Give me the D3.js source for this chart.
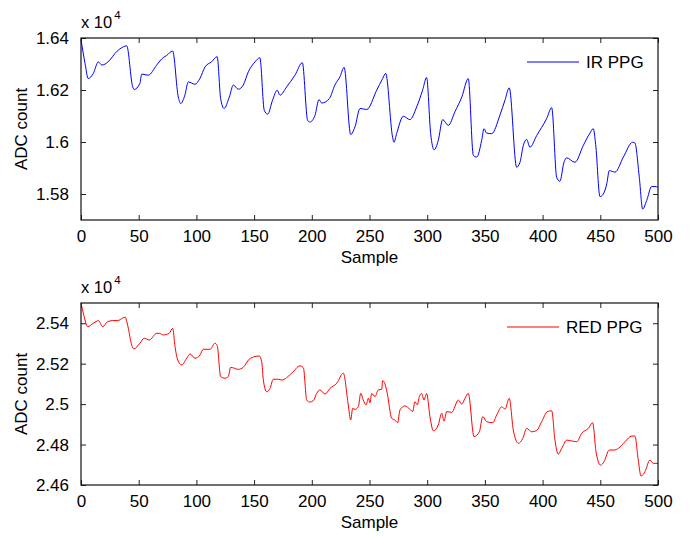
<!DOCTYPE html>
<html>
<head>
<meta charset="utf-8">
<script src="https://cdn.jsdelivr.net/npm/d3@7"></script>
<style>
  body { margin: 0; background: #fff; }
  svg { display: block; font-family: "Liberation Sans", Arial, sans-serif; }
</style>
</head>
<body>
<div id="chart"></div>
<script>
// samples and values (values in units of 1e4)
const irSample = [0, 3.5, 6.3, 10.7, 15, 18, 25, 29.5, 36.7, 39.6, 44.8, 46, 51, 52.6, 58.3, 65.6, 71.3, 74, 79.4,
  84.3, 86.4, 90, 93, 98.8, 103, 107.5, 113, 118, 121, 124, 128.5, 132, 136.3, 140.6, 145, 150.8, 155,
  158.8, 161.8, 166, 170, 172.4, 178.2, 185.4, 191.8, 196.4, 198.4, 202.8, 206.2, 208.6, 215.2, 220, 224.4, 228,
  233.7, 237.4, 241.8, 247.6, 256.2, 261.4, 264, 270, 271.2, 273.5, 279.3, 285, 290.9, 296, 299.5,
  303, 306, 309.6, 313.4, 318.3, 324, 330, 335.6, 340, 342.9, 347.2, 349.2, 351.5, 355.9, 363, 367.4, 371.1,
  377.5, 380.4, 383.3, 386.2, 389, 394.9, 403.5, 407.9, 412.2, 415, 418.5, 420.8, 428, 435.3, 441, 443.9, 446,
  449.7, 452.6, 455.6, 457.8, 462.7, 470, 478, 480, 483.8, 486.7, 490.2, 494.5, 497.4, 500];
const irValue = [1.6395, 1.6302, 1.6244, 1.6264, 1.6308, 1.6296, 1.6315, 1.6341, 1.6366, 1.6370, 1.6212, 1.6202, 1.6225, 1.6261, 1.6257, 1.6296, 1.6325, 1.6332, 1.6350,
  1.6173, 1.6148, 1.6180, 1.6231, 1.6222, 1.6244, 1.6289, 1.6308, 1.6328, 1.6167, 1.6129, 1.6173, 1.6219, 1.6203, 1.6219, 1.6270, 1.6308, 1.6324,
  1.6122, 1.6107, 1.6161, 1.6199, 1.6180, 1.6212, 1.6257, 1.6305, 1.6083, 1.6077, 1.6103, 1.6163, 1.6150, 1.6167, 1.6219, 1.6251, 1.6287,
  1.6029, 1.6058, 1.6129, 1.6125, 1.6199, 1.6244, 1.6264, 1.6019, 1.5999, 1.6032, 1.6099, 1.6086, 1.6135, 1.6199, 1.6248,
  1.6032, 1.5970, 1.6006, 1.6086, 1.6064, 1.6116, 1.6173, 1.6244, 1.5948, 1.5942, 1.6006, 1.6051, 1.6034, 1.6032, 1.6103, 1.6161, 1.6208,
  1.5903, 1.5922, 1.5987, 1.6010, 1.5980, 1.6025, 1.6090, 1.6132, 1.5864, 1.5849, 1.5922, 1.5939, 1.5922, 1.5987, 1.6034, 1.6051, 1.5990,
  1.5790, 1.5800, 1.5839, 1.5890, 1.5884, 1.5942, 1.5999, 1.5996, 1.5864, 1.5742, 1.5775, 1.5829, 1.5829, 1.5826];

const redSample = [0, 2, 5.8, 10.7, 13, 15, 18.8, 23.1, 27.5, 31.8, 36.1, 38.4, 39.8, 41, 43.9, 45.9, 51, 54.9, 59.2, 65.6, 67.8, 71.3, 76.5, 79.4,
  81.5, 83.8, 87.3, 91.6, 94.5, 98.8, 103.1, 106, 111.8, 116.1, 118, 121, 124.8, 127.6, 129.7, 136.3, 140.6, 145.8, 150.8, 154.5, 156.6,
  158, 160.9, 163.8, 166.6, 171, 173.9, 182.6, 189.8, 192.7, 195.6, 198, 201.3, 204.2, 207.1, 211.4,
  215.8, 221.6, 227.3, 231.6, 233.7, 235.4, 237.4, 240.3, 242.4, 244.6, 247, 249, 250.4, 251.9, 254.8, 257.6, 260.6, 261.4, 263.4, 265.4,
  269.2, 272.1, 274.4, 276.4, 280.8, 285.1, 287.4, 289.4, 291.4, 293.2, 295.2, 297.2, 299.5,
  302.4, 305.3, 309.6, 312.6, 314.6, 316.9, 321.2, 327, 329.9, 332.8, 335.6,
  340.6, 345.2, 348.1, 351.6, 356.8, 360.2, 364.6, 367.4, 371.1,
  374.6, 379, 382.8, 386.2, 390.6, 394.9, 399.2, 404.1, 407.9, 410.7, 413.6, 416.6, 420.9, 425.2, 429.6, 433.9, 439.6, 443.4,
  446.3, 450.3, 453.2, 457.8, 461.9, 465.6, 471.4, 477.2, 480, 482.9, 485.3, 488.7, 493, 495.9, 500];
const redValue = [2.5499, 2.5450, 2.5383, 2.5400, 2.5408, 2.5413, 2.5383, 2.5408, 2.5413, 2.5413, 2.5425, 2.5430, 2.5405, 2.5375, 2.5293, 2.5273, 2.5301, 2.5326, 2.5317, 2.5350, 2.5350, 2.5342, 2.5350, 2.5375,
  2.5284, 2.5218, 2.5194, 2.5227, 2.5248, 2.5227, 2.5243, 2.5271, 2.5271, 2.5301, 2.5290, 2.5136, 2.5128, 2.5136, 2.5182, 2.5172, 2.5182, 2.5222, 2.5235, 2.5238, 2.5210,
  2.5119, 2.5061, 2.5078, 2.5123, 2.5123, 2.5119, 2.5153, 2.5189, 2.5180, 2.5020, 2.5010, 2.5017, 2.5053, 2.5070, 2.5050,
  2.5078, 2.5103, 2.5153, 2.4996, 2.4921, 2.4979, 2.4974, 2.4987, 2.5053, 2.5020, 2.4996, 2.5029, 2.5007, 2.5053, 2.5037, 2.5070, 2.5073, 2.5116, 2.5100, 2.5053,
  2.4930, 2.4921, 2.4908, 2.4971, 2.4991, 2.4974, 2.4963, 2.5012, 2.4996, 2.5037, 2.5053, 2.5020, 2.5053,
  2.4938, 2.4868, 2.4897, 2.4955, 2.4916, 2.4963, 2.4959, 2.5020, 2.5000, 2.5029, 2.5053,
  2.4839, 2.4863, 2.4938, 2.4913, 2.4908, 2.4946, 2.4987, 2.4975, 2.5029,
  2.4872, 2.4806, 2.4830, 2.4880, 2.4863, 2.4870, 2.4913, 2.4963, 2.4967, 2.4822, 2.4753, 2.4781, 2.4822, 2.4818, 2.4814, 2.4856, 2.4880, 2.4908,
  2.4764, 2.4698, 2.4715, 2.4773, 2.4773, 2.4781, 2.4814, 2.4842, 2.4842, 2.4723, 2.4644, 2.4666, 2.4723, 2.4707, 2.4707];

const xTicks = [0, 50, 100, 150, 200, 250, 300, 350, 400, 450, 500];
const irTicks = [1.58, 1.6, 1.62, 1.64];
const redTicks = [2.46, 2.48, 2.5, 2.52, 2.54];

const width = 690;
const height = 536;
const marginLeft = 81;
const marginRight = 32;

const svg = d3.select("#chart")
  .append("svg")
  .attr("width", width)
  .attr("height", height)
  .attr("viewBox", [0, 0, width, height]);

function panel(top, bottom, xs, ys, domain, yTicks, color, name, legendX) {
  const x = d3.scaleLinear().domain([0, 500]).range([marginLeft, width - marginRight]);
  const y = d3.scaleLinear().domain(domain).range([bottom, top]);
  const data = xs.map((s, i) => [s, ys[i]]);

  const g = svg.append("g");
  const fmt = d => String(+d.toFixed(2));

  // axes with inward ticks on all four sides
  g.append("g")
    .attr("transform", `translate(0,${bottom})`)
    .call(d3.axisBottom(x).tickValues(xTicks).tickSizeInner(-5).tickSizeOuter(0).tickPadding(10).tickFormat(d3.format("d")))
    .call(a => a.select(".domain").remove());
  g.append("g")
    .attr("transform", `translate(0,${top})`)
    .call(d3.axisTop(x).tickValues(xTicks).tickSizeInner(-5).tickSizeOuter(0).tickFormat(""))
    .call(a => a.select(".domain").remove());
  g.append("g")
    .attr("transform", `translate(${marginLeft},0)`)
    .call(d3.axisLeft(y).tickValues(yTicks).tickSizeInner(-5).tickSizeOuter(0).tickPadding(12).tickFormat(fmt))
    .call(a => a.select(".domain").remove());
  g.append("g")
    .attr("transform", `translate(${width - marginRight},0)`)
    .call(d3.axisRight(y).tickValues(yTicks).tickSizeInner(-5).tickSizeOuter(0).tickFormat(""))
    .call(a => a.select(".domain").remove());

  g.selectAll(".tick text")
    .attr("font-size", 17)
    .attr("font-family", "Liberation Sans, Arial, sans-serif")
    .attr("fill", "#000");
  g.selectAll(".tick line").attr("stroke", "#222");

  // signal
  g.append("path")
    .datum(data)
    .attr("fill", "none")
    .attr("stroke", color)
    .attr("stroke-width", 1)
    .attr("d", d3.line().curve(d3.curveMonotoneX).x(d => x(d[0])).y(d => y(d[1])));

  // frame
  g.append("rect")
    .attr("x", marginLeft)
    .attr("y", top)
    .attr("width", width - marginRight - marginLeft)
    .attr("height", bottom - top)
    .attr("fill", "none")
    .attr("stroke", "#111")
    .attr("stroke-width", 1.2);

  // exponent label
  const ex = g.append("text")
    .attr("x", marginLeft)
    .attr("y", top - 10)
    .attr("font-size", 16.5);
  ex.append("tspan").text("x 10");
  ex.append("tspan").attr("font-size", 11.5).attr("dy", -9).attr("dx", 2).text("4");

  // axis labels
  g.append("text")
    .attr("x", (marginLeft + width - marginRight) / 2)
    .attr("y", bottom + 43)
    .attr("text-anchor", "middle")
    .attr("font-size", 17)
    .text("Sample");
  g.append("text")
    .attr("transform", `translate(27,${(top + bottom) / 2}) rotate(-90)`)
    .attr("text-anchor", "middle")
    .attr("font-size", 17)
    .text("ADC count");

  // legend
  const ly = top + 24;
  g.append("line")
    .attr("x1", legendX).attr("x2", legendX + 52)
    .attr("y1", ly).attr("y2", ly)
    .attr("stroke", color)
    .attr("stroke-width", 1);
  g.append("text")
    .attr("x", legendX + 59)
    .attr("y", ly + 6)
    .attr("font-size", 17)
    .text(name);
}

panel(38, 220, irSample, irValue, [1.57, 1.64], irTicks, "#0000ff", "IR PPG", 527);
panel(303, 485, redSample, redValue, [2.46, 2.55], redTicks, "#ff0000", "RED PPG", 507);
</script>
</body>
</html>
